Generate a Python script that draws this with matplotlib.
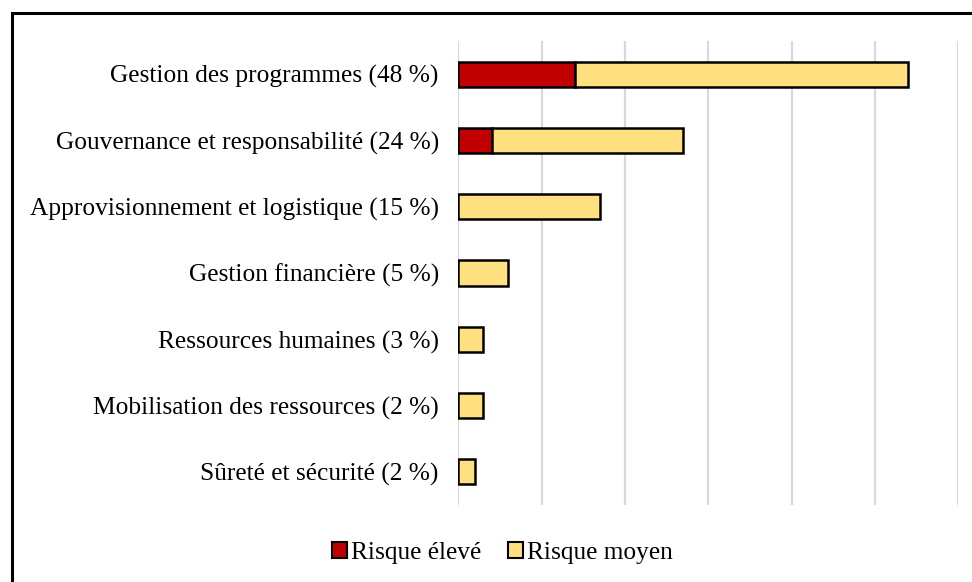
import matplotlib
matplotlib.use("Agg")
import matplotlib.pyplot as plt
from matplotlib.patches import Rectangle, Patch

plt.rcParams['font.family'] = ['Liberation Serif', 'DejaVu Serif']

categories = ['Gestion des programmes (48 %)',
              'Gouvernance et responsabilité (24 %)',
              'Approvisionnement et logistique (15 %)',
              'Gestion financière (5 %)',
              'Ressources humaines (3 %)',
              'Mobilisation des ressources (2 %)',
              'Sûreté et sécurité (2 %)']
risque_eleve = [14, 4, 0, 0, 0, 0, 0]
risque_moyen = [40, 23, 17, 6, 3, 3, 2]
legend_labels = ['Risque élevé', 'Risque moyen']

red = '#C00000'
yellow = '#FFE080'

fig = plt.figure(figsize=(9.72, 5.82), dpi=100)
ax = fig.add_axes([0.4715, 0.1323, 0.5144, 0.7973])

y = list(range(len(categories)))
ax.barh(y, risque_eleve, height=0.38, color=red, edgecolor='black', linewidth=1.8, zorder=3)
ax.barh(y, risque_moyen, left=risque_eleve, height=0.38, color=yellow,
        edgecolor='black', linewidth=1.8, zorder=3)

ax.set_xlim(0, 60)
ax.set_ylim(len(categories) - 0.5, -0.5)
ax.set_xticks(range(0, 61, 10))
ax.set_xticklabels([])
ax.set_yticks(y)
ax.set_yticklabels(categories, fontsize=18.3)
ax.tick_params(length=0, pad=14)
ax.grid(axis='x', color='#d9d9d9', linewidth=1.6, zorder=0)
for s in ax.spines.values():
    s.set_visible(False)

handles = [Patch(facecolor=red, edgecolor='black', linewidth=1.5),
           Patch(facecolor=yellow, edgecolor='black', linewidth=1.5)]
fig.legend(handles, legend_labels, loc='center', bbox_to_anchor=(0.5166, 0.05),
           ncol=2, frameon=False, fontsize=18.3, handlelength=0.6, handleheight=0.6,
           handletextpad=0.15, columnspacing=1.05)

# outer frame, cut by the image edge on the right and bottom
fig.patches.append(Rectangle((12 / 972, -0.05), 1.1, (582 - 13) / 582 + 0.05,
                             transform=fig.transFigure, fill=False,
                             edgecolor='black', linewidth=2.2, clip_on=False))

fig.savefig('out.png', dpi=100)
